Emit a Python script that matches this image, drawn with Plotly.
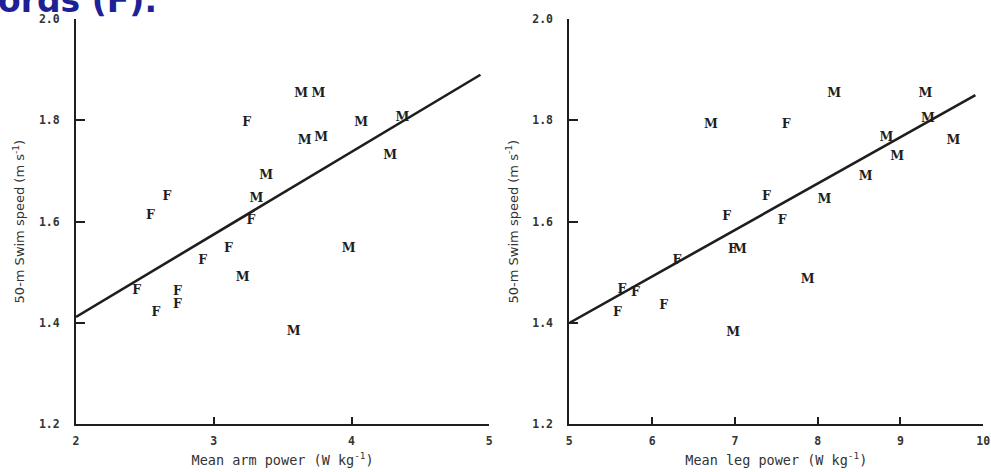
import plotly.graph_objects as go

# ---- data: left panel (arm power) ----
arm_x = [3.24, 3.635, 3.76, 3.66, 3.78, 4.07, 4.37, 4.28, 3.38, 3.31, 3.27,
         2.66, 2.54, 3.107, 2.92, 3.21, 3.98, 2.44, 2.736, 2.736, 2.58, 3.58]
arm_y = [1.794, 1.852, 1.852, 1.760, 1.766, 1.794, 1.804, 1.730, 1.690, 1.645, 1.602,
         1.648, 1.612, 1.546, 1.522, 1.489, 1.546, 1.464, 1.461, 1.435, 1.419, 1.382]
arm_sex = ["F", "M", "M", "M", "M", "M", "M", "M", "M", "M", "F",
           "F", "F", "F", "F", "M", "M", "F", "F", "F", "F", "M"]
arm_fit_x = [2.0, 4.936]
arm_fit_y = [1.412, 1.890]

# ---- data: right panel (leg power) ----
leg_x = [6.71, 7.62, 8.20, 9.30, 9.33, 8.83, 9.64, 8.96, 8.58, 8.08, 7.38,
         6.90, 7.57, 6.30, 6.97, 7.06, 7.88, 5.635, 5.80, 6.14, 5.58, 6.98]
leg_y = [1.791, 1.791, 1.852, 1.852, 1.803, 1.765, 1.759, 1.727, 1.689, 1.643, 1.648,
         1.610, 1.601, 1.523, 1.545, 1.545, 1.485, 1.465, 1.459, 1.434, 1.419, 1.380]
leg_sex = ["M", "F", "M", "M", "M", "M", "M", "M", "M", "M", "F",
           "F", "F", "F", "F", "M", "M", "F", "F", "F", "F", "M"]
leg_fit_x = [5.0, 9.905]
leg_fit_y = [1.400, 1.850]

y_ticks = [1.2, 1.4, 1.6, 1.8, 2.0]
y_ticklabels = ["1.2", "1.4", "1.6", "1.8", "2.0"]
arm_ticks = [2, 3, 4, 5]
leg_ticks = [5, 6, 7, 8, 9, 10]

ink = "#1e1e1e"
marker_font = dict(family="DejaVu Serif", size=12.5, color=ink, weight="bold")

fig = go.Figure()
fig.add_trace(go.Scatter(x=arm_fit_x, y=arm_fit_y, mode="lines",
                         line=dict(color=ink, width=2.6), xaxis="x", yaxis="y",
                         showlegend=False, hoverinfo="skip"))
fig.add_trace(go.Scatter(x=arm_x, y=arm_y, mode="text", text=arm_sex,
                         textfont=marker_font, textposition="middle center",
                         xaxis="x", yaxis="y", showlegend=False))
fig.add_trace(go.Scatter(x=leg_fit_x, y=leg_fit_y, mode="lines",
                         line=dict(color=ink, width=2.6), xaxis="x2", yaxis="y2",
                         showlegend=False, hoverinfo="skip"))
fig.add_trace(go.Scatter(x=leg_x, y=leg_y, mode="text", text=leg_sex,
                         textfont=marker_font, textposition="middle center",
                         xaxis="x2", yaxis="y2", showlegend=False))

tick_font = dict(family="DejaVu Sans Mono", size=11.5, color="#333333", weight="bold")
xtitle_font = dict(family="DejaVu Sans Mono", size=13.5, color="#333333")
ytitle_font = dict(family="DejaVu Sans", size=13, color="#333333")

def xaxis(domain, rng, ticks, title, anchor):
    return dict(domain=domain, range=rng, tickvals=ticks, ticktext=[str(t) for t in ticks],
                showline=True, linecolor=ink, linewidth=2, ticks="inside", ticklen=7,
                tickwidth=2, tickcolor=ink, showgrid=False, zeroline=False,
                tickfont=tick_font, anchor=anchor, ticklabelstandoff=5, automargin=False,
                title=dict(text=title, font=xtitle_font, standoff=8))

def yaxis(domain, anchor, title):
    return dict(domain=domain, range=[1.2, 2.0], tickvals=y_ticks, ticktext=y_ticklabels,
                showline=True, linecolor=ink, linewidth=2, ticks="inside", ticklen=9,
                tickwidth=2, tickcolor=ink, showgrid=False, zeroline=False,
                tickfont=tick_font, anchor=anchor, ticklabelstandoff=12, automargin=False,
                title=dict(text=title, font=ytitle_font, standoff=11))

ydom = [0.1011, 0.9597]
fig.update_layout(
    width=991, height=472,
    margin=dict(l=0, r=0, t=0, b=0, autoexpand=False),
    paper_bgcolor="white", plot_bgcolor="white",
    xaxis=xaxis([0.0767, 0.4937], [2, 5], arm_ticks, "Mean arm power (W kg<sup>-1</sup>)", "y"),
    yaxis=yaxis(ydom, "x", "50-m Swim speed (m s<sup>-1</sup>)"),
    xaxis2=xaxis([0.5745, 0.9922], [5, 10], leg_ticks, "Mean leg power (W kg<sup>-1</sup>)", "y2"),
    yaxis2=yaxis(ydom, "x2", "50-m Swim speed (m s<sup>-1</sup>)"),
    annotations=[dict(text="ords (F).", xref="paper", yref="paper", x=-0.004, y=1.0,
                      xanchor="left", yanchor="middle", showarrow=False,
                      font=dict(family="DejaVu Sans", size=33, color="#1f1f96", weight="bold"))],
)

fig.write_html("out.html", config={"displayModeBar": False},
               post_script="document.body.style.margin='0px';document.body.style.overflow='hidden';")
